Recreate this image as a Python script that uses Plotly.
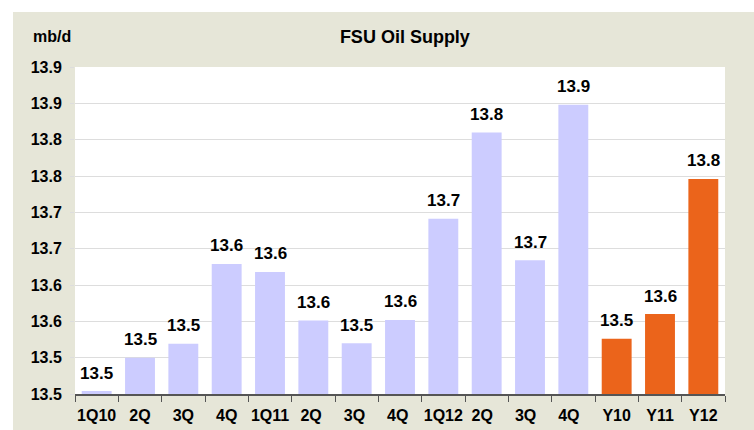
import plotly.graph_objects as go

categories = ["1Q10", "2Q", "3Q", "4Q", "1Q11", "2Q ", "3Q ", "4Q ", "1Q12", "2Q  ", "3Q  ", "4Q  ", "Y10", "Y11", "Y12"]
values = [13.473, 13.519, 13.538, 13.648, 13.637, 13.570, 13.539, 13.571,
          13.710, 13.829, 13.653, 13.867, 13.545, 13.579, 13.765]
is_annual = [False] * 12 + [True] * 3

QUARTER_COLOR = "#CCCCFF"
ANNUAL_COLOR = "#EB641B"
colors = [ANNUAL_COLOR if a else QUARTER_COLOR for a in is_annual]

FONT = "Liberation Sans, Arial, sans-serif"

W, H = 754, 430
ML, MR, MT, MB = 75, 29, 67, 36
PW, PH = W - ML - MR, H - MT - MB


def px_x(x):
    return (x - ML) / PW


def px_y(y):
    return (H - MB - y) / PH


fig = go.Figure(go.Bar(
    x=categories,
    y=values,
    marker=dict(color=colors, line=dict(width=0)),
    hoverinfo="x+y",
))

value_labels = [dict(
    x=c, y=v, xref="x", yref="y",
    text=f"<b>{v:.1f}</b>", showarrow=False,
    xanchor="center", yanchor="middle", yshift=18,
    font=dict(family=FONT, size=17, color="#000000"),
) for c, v in zip(categories, values)]

# white outer strips (top and left) around the beige chart area
frame_shapes = [
    dict(type="rect", xref="paper", yref="paper", layer="above",
         x0=px_x(0), x1=px_x(W), y0=px_y(12), y1=px_y(0),
         fillcolor="#FFFFFF", line=dict(width=0)),
    dict(type="rect", xref="paper", yref="paper", layer="above",
         x0=px_x(0), x1=px_x(13), y0=px_y(H), y1=px_y(0),
         fillcolor="#FFFFFF", line=dict(width=0)),
]

fig.update_layout(
    width=W, height=H,
    paper_bgcolor="#E6E6D8",
    plot_bgcolor="#FFFFFF",
    margin=dict(l=ML, r=MR, t=MT, b=MB, autoexpand=False),
    bargap=0.31,
    showlegend=False,
    font=dict(family=FONT, color="#000000"),
    title=dict(text="<b>FSU Oil Supply</b>", x=0.537, xanchor="center",
               y=1 - 37 / 430, yanchor="middle", yref="container",
               font=dict(family=FONT, size=18, color="#000000")),
    xaxis=dict(
        type="category",
        automargin=False,
        tickangle=0,
        showline=True, linecolor="#555555", linewidth=1.5,
        ticks="outside", tickson="boundaries", ticklen=6, tickcolor="#555555",
        ticklabelstandoff=6,
        tickfont=dict(family=FONT, size=16, color="#000000", weight="bold"),
        showgrid=False,
    ),
    yaxis=dict(
        automargin=False,
        range=[13.469, 13.919],
        tick0=13.469, dtick=0.05,
        tickformat=".1f",
        showgrid=True, gridcolor="#DDDDDD", gridwidth=1,
        ticks="outside", ticklen=4, tickcolor="#DDDDDD",
        ticklabelstandoff=5,
        showline=False, zeroline=False,
        tickfont=dict(family=FONT, size=16, color="#000000", weight="bold"),
    ),
    shapes=frame_shapes,
    annotations=value_labels + [dict(
        text="<b>mb/d</b>", xref="paper", yref="paper",
        x=-0.035, y=1.0, xanchor="center", yanchor="middle", yshift=31,
        showarrow=False, font=dict(family=FONT, size=16, color="#000000"),
    )],
)

fig.write_html("out.html",
               config={"displayModeBar": False},
               post_script="document.body.style.margin='0';document.body.style.padding='0';")
